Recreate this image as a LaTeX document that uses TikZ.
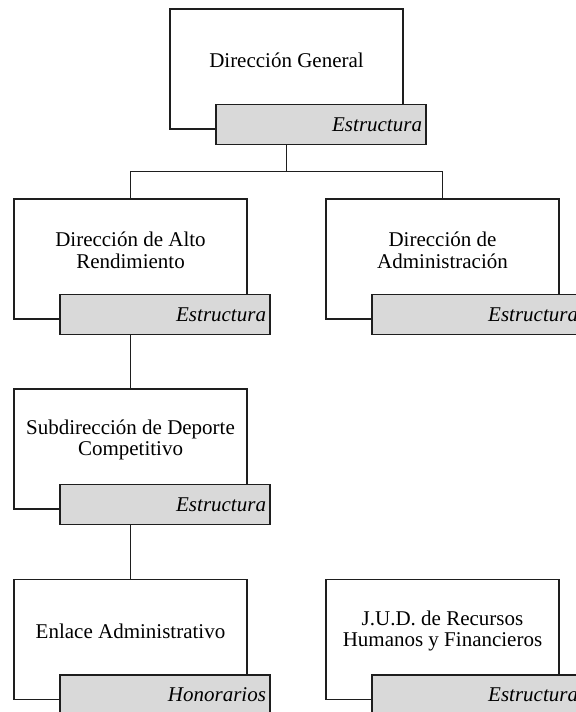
\documentclass[tikz,border=0pt]{standalone}
\usepackage{fontspec}
\setmainfont{Liberation Serif}
\usepackage{tikz}
\usetikzlibrary{positioning, calc}
\definecolor{myline}{RGB}{30,30,30}
\definecolor{mytag}{RGB}{217,217,217}
\tikzset{
  unitbox/.style={rectangle, draw=myline, fill=white,
    minimum width=116.5pt, minimum height=60pt,
    inner sep=0pt, line width=0.7pt},
  tagbox/.style={rectangle, draw=myline, fill=mytag,
    minimum width=105pt, minimum height=20pt, text width=101pt,
    align=right, inner xsep=2pt, inner ysep=0pt, anchor=north east,
    font=\fontsize{10.5}{11}\selectfont\itshape, line width=0.7pt},
  unitlabel/.style={align=center, inner sep=0pt,
    font=\fontsize{10.5}{10.6}\selectfont},
  link/.style={line width=0.7pt, color=myline}
}

\begin{document}
\begin{tikzpicture}[x=0.5pt, y=0.5pt]
  \clip (0,0) rectangle (576,712);

  % Dirección General
  \node[unitbox] (dg) at (286.5, 643) {};
  \node[tagbox] (dgtag) at ([shift={(23,26)}]dg.south east) {Estructura};
  \node[unitlabel] (dglbl) at ([yshift=-26pt]dg.north) {Dirección General};

  % Second level
  \node[unitbox] (dar) at (130.5, 453) {};
  \node[tagbox] (dartag) at ([shift={(23,26)}]dar.south east) {Estructura};
  \node[unitlabel] (darlbl) at ([yshift=-26pt]dar.north) {Dirección de Alto\\Rendimiento};

  \node[unitbox] (dad) at (442.5, 453) {};
  \node[tagbox] (dadtag) at ([shift={(23,26)}]dad.south east) {Estructura};
  \node[unitlabel] (dadlbl) at ([yshift=-26pt]dad.north) {Dirección de\\Administración};

  % Subdirección
  \node[unitbox] (sdc) at (130.5, 263) {};
  \node[tagbox] (sdctag) at ([shift={(23,26)}]sdc.south east) {Estructura};
  \node[unitlabel] (sdclbl) at ([yshift=-26pt]sdc.north) {Subdirección de Deporte\\Competitivo};

  % Bottom row
  \node[unitbox] (ea) at (130.5, 72.5) {};
  \node[tagbox] (eatag) at ([shift={(23,26)}]ea.south east) {Honorarios};
  \node[unitlabel] (ealbl) at ([yshift=-26.5pt]ea.north) {Enlace Administrativo};

  \node[unitbox] (jud) at (442.5, 72.5) {};
  \node[tagbox] (judtag) at ([shift={(23,26)}]jud.south east) {Estructura};
  \node[unitlabel] (judlbl) at ([yshift=-26pt]jud.north) {J.U.D. de Recursos\\Humanos y Financieros};

  % Connectors
  \coordinate (bus) at ($(dg.south |- dgtag.south)!0.5!(dg.south |- dar.north)$);
  \draw[link] (dg.south |- dgtag.south) -- (bus) -| (dar.north);
  \draw[link] (bus) -| (dad.north);
  \draw[link] (dar.south |- dartag.south) -- (sdc.north);
  \draw[link] (sdc.south |- sdctag.south) -- (ea.north);
\end{tikzpicture}
\end{document}
